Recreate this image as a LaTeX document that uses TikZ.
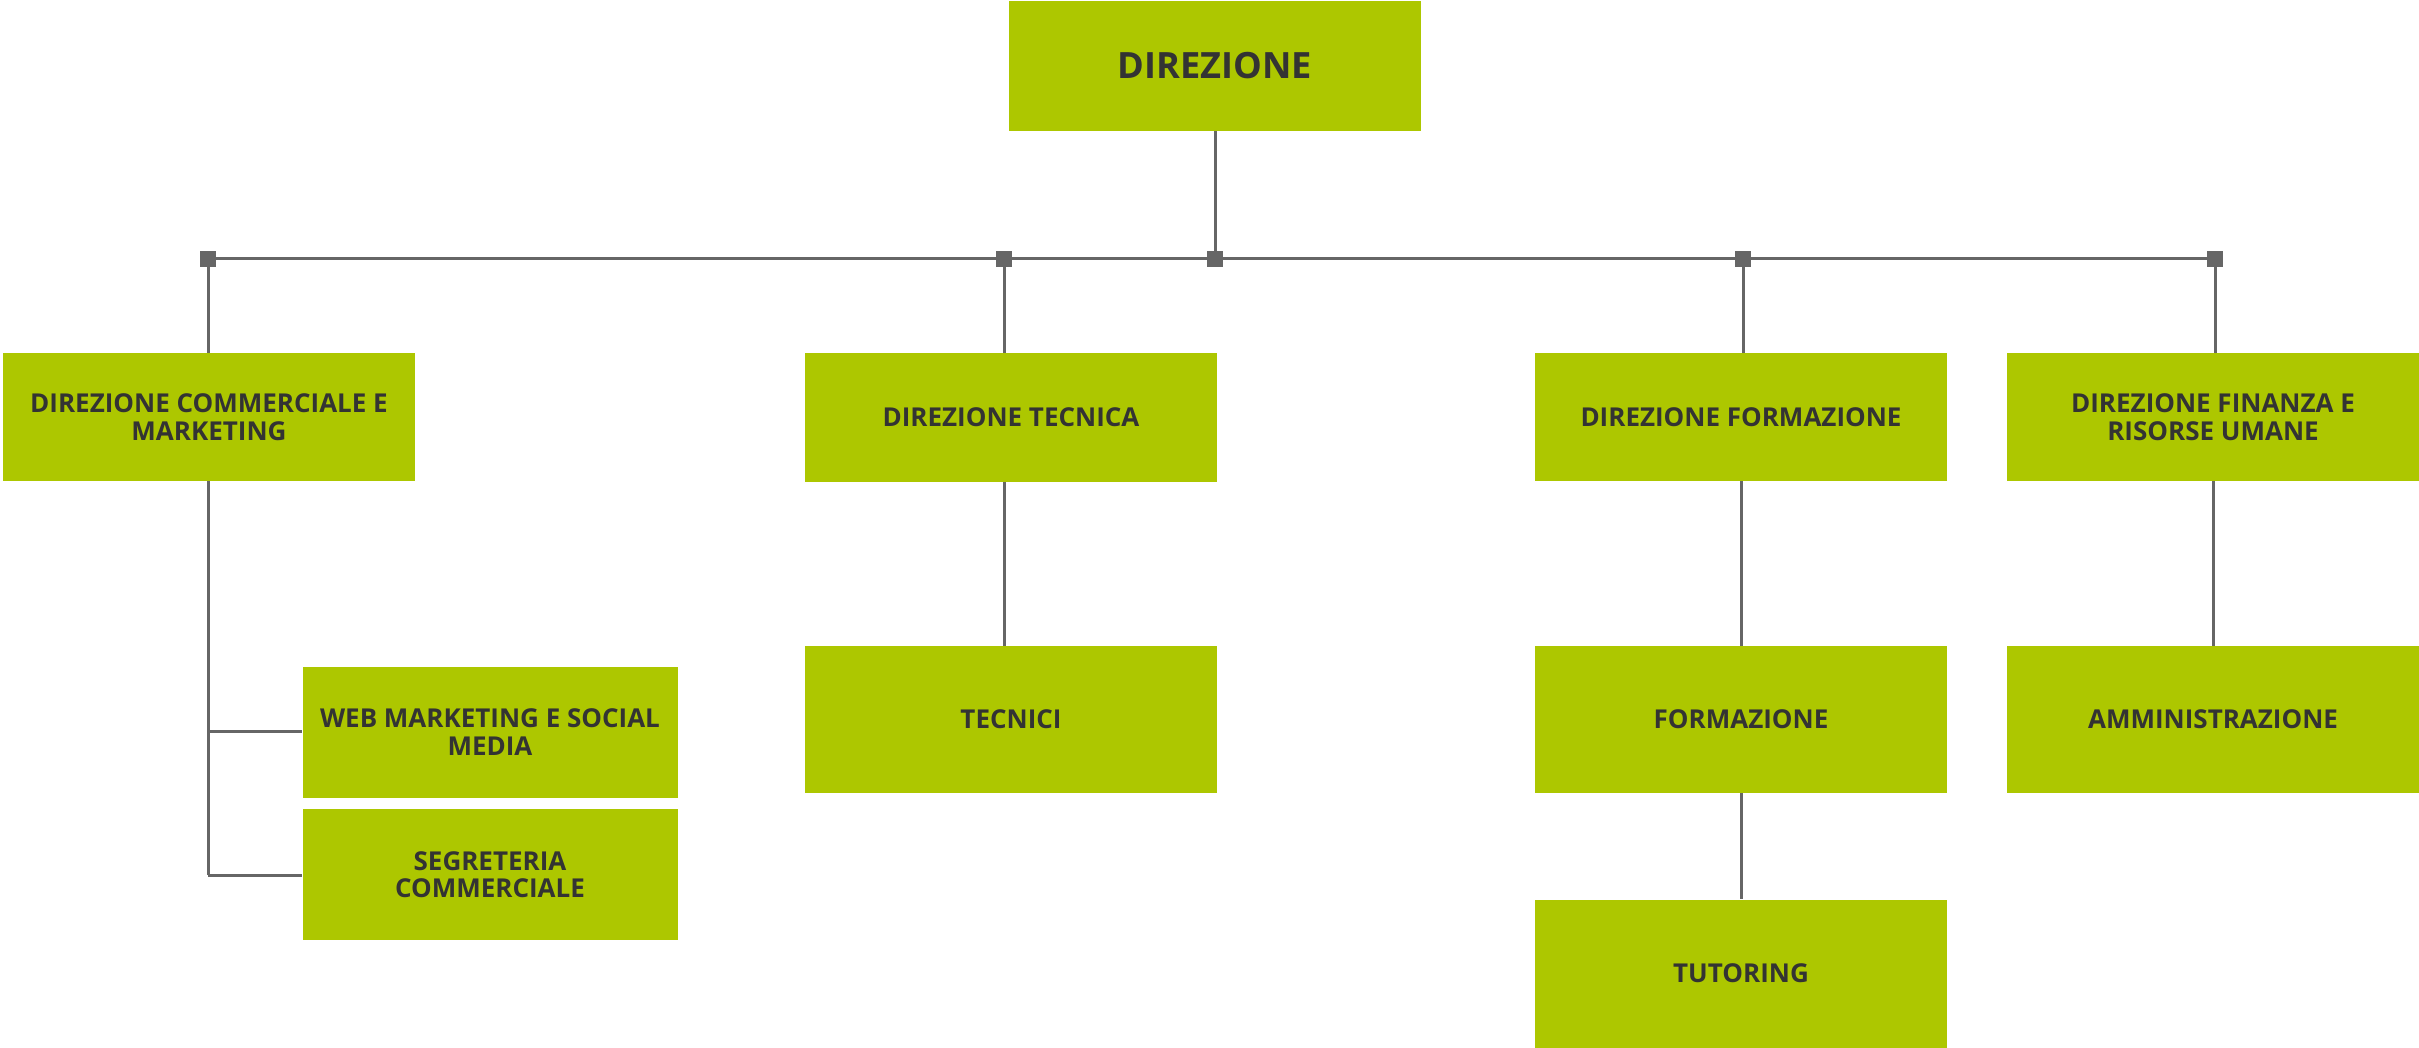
\documentclass[tikz,border=0pt]{standalone}
\usepackage{fontspec}
\setmainfont{Open Sans}
\definecolor{boxgreen}{RGB}{173,199,0}
\definecolor{txtgray}{RGB}{51,51,51}
\definecolor{linegray}{RGB}{102,102,102}
\begin{document}
\begin{tikzpicture}[x=1pt,y=-1pt,
  orgbox/.style={fill=boxgreen, inner sep=0pt, align=center, text=txtgray,
    font=\fontsize{26}{27.5}\selectfont\bfseries},
  topbox/.style={orgbox, font=\fontsize{36.2}{39}\selectfont\bfseries},
  conn/.style={draw=linegray, line width=3pt},
  junc/.style={fill=linegray, inner sep=0pt, minimum size=16pt, rectangle}]
\useasboundingbox (0,0) rectangle (2419,1048);
% boxes
\node[topbox, minimum width=412pt, minimum height=130pt] (dir) at (1215,66) {DIREZIONE};
\node[orgbox, minimum width=412pt, minimum height=128pt] (com) at (209,417) {DIREZIONE COMMERCIALE E\\MARKETING};
\node[orgbox, minimum width=412pt, minimum height=129pt] (tec) at (1011,417.5) {DIREZIONE TECNICA};
\node[orgbox, minimum width=412pt, minimum height=128pt] (form) at (1741,417) {DIREZIONE FORMAZIONE};
\node[orgbox, minimum width=412pt, minimum height=128pt] (fin) at (2213,417) {DIREZIONE FINANZA E\\RISORSE UMANE};
\node[orgbox, minimum width=412pt, minimum height=147pt] (tecnici) at (1011,719.5) {TECNICI};
\node[orgbox, minimum width=412pt, minimum height=147pt] (formz) at (1741,719.5) {FORMAZIONE};
\node[orgbox, minimum width=412pt, minimum height=147pt] (amm) at (2213,719.5) {AMMINISTRAZIONE};
\node[orgbox, minimum width=375pt, minimum height=131pt] (web) at (490,732) {WEB MARKETING E SOCIAL\\MEDIA};
\node[orgbox, minimum width=375pt, minimum height=131pt] (seg) at (490,874.5) {SEGRETERIA\\COMMERCIALE};
\node[orgbox, minimum width=412pt, minimum height=148pt] (tut) at (1741,973.5) {TUTORING};
% junction coordinates
\coordinate (jc) at (1215,259);
\coordinate (j1) at (208,259);
\coordinate (j2) at (1004,259);
\coordinate (j3) at (1743,259);
\coordinate (j4) at (2215,259);
\coordinate (cb) at (208,875);
\coordinate (cw) at (208,731);
% connectors
\draw[conn] (dir.south) -- (jc);
\draw[conn] (j1) -- (j4);
\draw[conn] (j1) -- (j1 |- com.north);
\draw[conn] (j2) -- (j2 |- tec.north);
\draw[conn] (j3) -- (j3 |- form.north);
\draw[conn] (j4) -- (j4 |- fin.north);
\draw[conn] (j1 |- com.south) -- (cb);
\draw[conn] (cw) -- (cw -| web.west);
\draw[conn] (cb) -- (cb -| seg.west);
\draw[conn] (j2 |- tec.south) -- (j2 |- tecnici.north);
\draw[conn] (form.south) -- (formz.north);
\draw[conn] (formz.south) -- (tut.north);
\draw[conn] (fin.south) -- (amm.north);
% junction squares
\node[junc] (s0) at (jc) {};
\node[junc] (s1) at (j1) {};
\node[junc] (s2) at (j2) {};
\node[junc] (s3) at (j3) {};
\node[junc] (s4) at (j4) {};
\end{tikzpicture}
\end{document}
